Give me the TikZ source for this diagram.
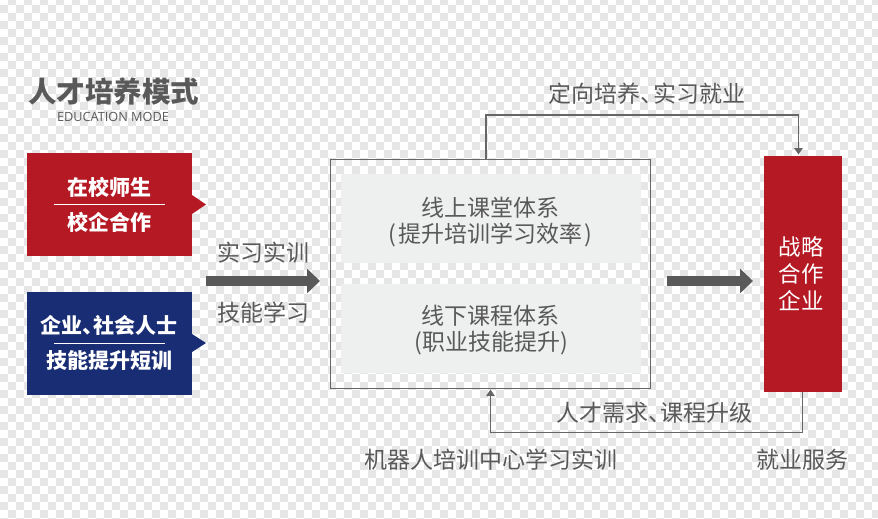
\documentclass[tikz,border=0pt]{standalone}
\usepackage{fontspec}
\setmainfont{Noto Sans CJK SC}
\newfontfamily\latinfont{Open Sans}
\usetikzlibrary{arrows.meta}
\definecolor{schoolred}{HTML}{B51A24}
\definecolor{companyblue}{HTML}{192D74}
\definecolor{labelgray}{HTML}{595959}
\definecolor{linegray}{HTML}{666666}
\definecolor{panelgray}{HTML}{EEEFEF}
\definecolor{checkgray}{HTML}{E6E6E6}
\newcommand{\dun}{、\kern-.45em}
\newcommand{\opn}{(\kern.1em}
\newcommand{\cls}{\kern.1em)}
\begin{document}
\begin{tikzpicture}[x=1pt, y=-1pt]
	\tikzstyle{block}  = [inner sep=0pt, outer sep=0pt, anchor=north west]
	\tikzstyle{label}  = [inner sep=0pt, text=labelgray, font=\fontsize{23}{25}\selectfont]
	\tikzstyle{cardtext} = [inner sep=0pt, text=white, font=\fontsize{21}{23}\selectfont\bfseries]
	\tikzstyle{link}   = [draw=linegray, -{Triangle[width=8.5pt, length=6.5pt]}]
	\tikzstyle{flow}   = [draw=labelgray, line width=10pt, -{Triangle[width=24pt, length=13pt]}]

	\useasboundingbox (0,0) rectangle (878,519);
	\begin{scope}
		\clip (0,0) rectangle (878,519);
		\foreach \i in {0,...,110}
			\foreach \j in {0,...,65} {
				\pgfmathparse{int(mod(\i+\j,2))}
				\ifnum\pgfmathresult=1
					\fill[checkgray] (-0.5+8*\i,-2.5+8*\j) rectangle ++(8,8);
				\fi
			}
	\end{scope}

	% cards on the left
	\foreach \name/\col/\y/\tipa/\tip/\tipb in {school/schoolred/153/195/204.5/214, company/companyblue/292/334/343/352} {
		\node[block, fill=\col, minimum width=165pt, minimum height=103pt] (\name) at (27,\y) {};
		\fill[\col] (192,\tipa) -- (206,\tip) -- (192,\tipb) -- cycle;
		\draw[white, line width=0.8pt] (54,\tip) -- (165,\tip);
	}
	\foreach \name/\x/\y/\txt in {teacher/109/187/在校师生, schoolco/109/222/校企合作, social/109/325/{企业\dun 社会人士}, shortcourse/109/360/技能提升短训}
		\node[cardtext] (\name) at (\x,\y) {\txt};

	\node[inner sep=0pt, text=labelgray, font=\fontsize{28.5}{30}\selectfont\bfseries] (title) at (113.5,91.5) {人才培养模式};
	\node[inner sep=0pt, text=labelgray, font=\fontsize{12.7}{14}\latinfont] (subtitle) at (113,116.5) {EDUCATION MODE};

	% middle system
	\node[block, draw=linegray, line width=1pt, minimum width=320pt, minimum height=229pt] (system) at (330.5,159) {};
	\foreach \name/\y in {online/174, offline/284}
		\node[block, fill=panelgray, minimum width=300pt, minimum height=89pt] (\name) at (341,\y) {};

	% partner on the right
	\node[block, fill=schoolred, minimum width=78pt, minimum height=236pt] (partner) at (764,156) {};

	\foreach \name/\x/\y/\txt in {onlinea/490.5/208/线上课堂体系, onlineb/490.5/235/{\opn 提升培训学习效率\cls}, offlinea/490.5/316/线下课程体系, offlineb/491/343/(职业技能提升), practice/263.5/252.5/实习实训, skill/263.5/312.5/技能学习, toplabel/647/93.5/{定向培养\dun 实习就业}, bottomlabel/654.5/412.5/{人才需求\dun 课程升级}, centre/491/459.5/机器人培训中心学习实训, service/802.5/459.5/就业服务}
		\node[label] (\name) at (\x,\y) {\txt};
	\foreach \name/\y/\txt in {battle/247/战略, cooperate/274/合作, firm/301/企业}
		\node[inner sep=0pt, text=white, font=\fontsize{22.5}{24}\selectfont] (\name) at (801,\y) {\txt};

	% connectors
	\foreach \name/\x/\y in {topa/486/159, topb/486/115, topc/798.5/115, topd/798.5/154.5, bota/802.5/392, botb/802.5/432, botc/490.5/432, botd/490.5/389.5, ina/206/281, inb/320/281, outa/667/281, outb/753/281}
		\coordinate (\name) at (\x,\y);

	\draw[link, line width=1.4pt] (topa) -- (topb) -- (topc) -- (topd);
	\draw[link, line width=1pt] (bota) -- (botb) -- (botc) -- (botd);
	\draw[flow] (ina) -- (inb);
	\draw[flow] (outa) -- (outb);
\end{tikzpicture}
\end{document}
